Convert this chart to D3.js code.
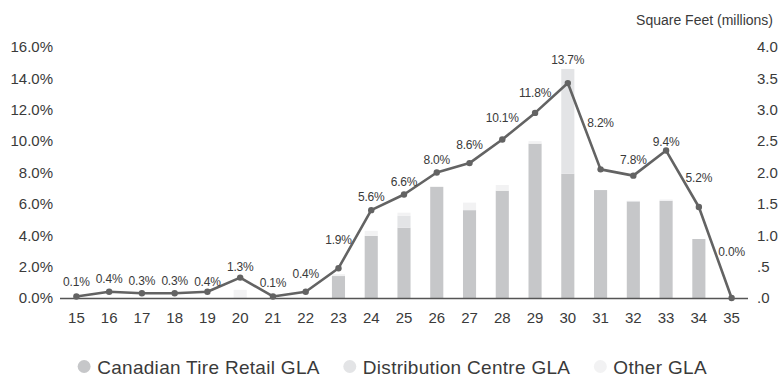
<!DOCTYPE html>
<html>
<head>
<meta charset="utf-8">
<script src="https://cdn.jsdelivr.net/npm/d3@7/dist/d3.min.js"></script>
<style>
  html, body { margin: 0; padding: 0; background: #fff; }
  svg { display: block; font-family: "Liberation Sans", Arial, Helvetica, sans-serif; }
</style>
</head>
<body>
<svg id="chart" width="780" height="377"></svg>
<script>
// ---------- DATA ----------
const years = ["15","16","17","18","19","20","21","22","23","24","25","26","27","28","29","30","31","32","33","34","35"];
// Square feet (millions) by component
const retailGLA = [0,0,0,0,0,0,0,0,0.35,0.99,1.12,1.77,1.40,1.71,2.46,1.98,1.72,1.54,1.55,0.94,0];
const distributionGLA = [0,0,0,0,0,0,0,0,0,0,0.19,0,0,0,0,1.67,0,0,0,0,0];
const otherGLA = [0,0,0,0,0,0.13,0,0,0.03,0.08,0.05,0.01,0.12,0.09,0.04,0,0,0.01,0.02,0,0];
// Percentage line (point values) and its labels
const pctValues = [0.1,0.4,0.3,0.3,0.4,1.3,0.1,0.4,1.9,5.6,6.6,8.0,8.6,10.1,11.8,13.7,8.2,7.8,9.4,5.8,0.0];
const pctLabels = ["0.1%","0.4%","0.3%","0.3%","0.4%","1.3%","0.1%","0.4%","1.9%","5.6%","6.6%","8.0%","8.6%","10.1%","11.8%","13.7%","8.2%","7.8%","9.4%","5.2%","0.0%"];
const leftTicks = [0,2,4,6,8,10,12,14,16];
const leftTickLabels = ["0.0%","2.0%","4.0%","6.0%","8.0%","10.0%","12.0%","14.0%","16.0%"];
const rightTicks = [0,0.5,1,1.5,2,2.5,3,3.5,4];
const rightTickLabels = [".0",".5","1.0","1.5","2.0","2.5","3.0","3.5","4.0"];
const seriesNames = ["Canadian Tire Retail GLA","Distribution Centre GLA","Other GLA"];
const rightAxisTitle = "Square Feet (millions)";

// ---------- LAYOUT / STYLE ----------
const colors = ["#c6c7c9","#e3e4e6","#f2f2f3"];
const lineColor = "#636363";
const textColor = "#3a3a3a";
const x0 = 60, x1 = 748, yTop = 47, yBase = 298;
// vertical lift of each percentage label above its point (px)
const labelLift = [10,9,8,8,6,7,9,14,24,9,8,9,14,18,16,19,42,12,5,25,42];

const svg = d3.select("#chart");

const x = d3.scaleBand().domain(years).range([x0, x1]).paddingInner(0.6).paddingOuter(0.3);
const yL = d3.scaleLinear().domain([0, 16]).range([yBase, yTop]);
const yR = d3.scaleLinear().domain([0, 4]).range([yBase, yTop]);

// stacked bars
const rows = years.map((yr, i) => ({year: yr, retail: retailGLA[i], dc: distributionGLA[i], other: otherGLA[i]}));
const stack = d3.stack().keys(["retail","dc","other"])(rows);
svg.append("g").selectAll("g").data(stack).join("g")
  .attr("fill", (d, i) => colors[i])
  .selectAll("rect").data(d => d).join("rect")
  .attr("x", d => x(d.data.year))
  .attr("width", x.bandwidth())
  .attr("y", d => yR(d[1]))
  .attr("height", d => Math.max(0, yR(d[0]) - yR(d[1])));

// left axis
const axL = svg.append("g").attr("transform", `translate(${x0 - 7},0)`)
  .call(d3.axisLeft(yL).tickValues(leftTicks).tickSize(0).tickPadding(0)
    .tickFormat((d, i) => leftTickLabels[i]));
axL.select(".domain").remove();
axL.selectAll("text").attr("font-size", 15).attr("fill", textColor)
  .attr("font-family", "Liberation Sans, Arial, sans-serif");

// right axis
const axR = svg.append("g").attr("transform", `translate(757,0)`)
  .call(d3.axisRight(yR).tickValues(rightTicks).tickSize(0).tickPadding(0)
    .tickFormat((d, i) => rightTickLabels[i]));
axR.select(".domain").remove();
axR.selectAll("text").attr("font-size", 15).attr("fill", textColor)
  .attr("font-family", "Liberation Sans, Arial, sans-serif");

svg.append("text").attr("x", 773).attr("y", 25).attr("text-anchor", "end")
  .attr("font-size", 14).attr("fill", textColor).text(rightAxisTitle);

// bottom axis
const axB = svg.append("g").attr("transform", `translate(0,${yBase})`)
  .call(d3.axisBottom(x).tickSize(0).tickPadding(14));
axB.select(".domain").remove();
axB.selectAll("text").attr("font-size", 15).attr("fill", textColor)
  .attr("font-family", "Liberation Sans, Arial, sans-serif");
svg.append("line").attr("x1", x0).attr("x2", x1).attr("y1", yBase + 0.5).attr("y2", yBase + 0.5)
  .attr("stroke", "#555").attr("stroke-width", 1.6);

// percentage line
const cx = (d, i) => x(years[i]) + x.bandwidth() / 2;
svg.append("path").datum(pctValues)
  .attr("fill", "none").attr("stroke", lineColor).attr("stroke-width", 2.6)
  .attr("stroke-linejoin", "round")
  .attr("d", d3.line().x(cx).y(d => yL(d)));
svg.append("g").selectAll("circle").data(pctValues).join("circle")
  .attr("cx", cx).attr("cy", d => yL(d)).attr("r", 3.2).attr("fill", lineColor);

svg.append("g").selectAll("text").data(pctValues).join("text")
  .attr("x", cx).attr("y", (d, i) => yL(d) - labelLift[i])
  .attr("text-anchor", "middle").attr("font-size", 12).attr("fill", textColor)
  .attr("letter-spacing", -0.2)
  .text((d, i) => pctLabels[i]);

// legend
const leg = svg.append("g");
let lx = 0;
seriesNames.forEach((name, i) => {
  const g = leg.append("g").attr("transform", `translate(${lx},0)`);
  g.append("circle").attr("cx", 7).attr("cy", 366.5).attr("r", 6.5).attr("fill", colors[i]);
  const t = g.append("text").attr("x", 20).attr("y", 374).attr("font-size", 19)
    .attr("letter-spacing", 0.3).attr("fill", textColor).text(name);
  lx += 20 + t.node().getComputedTextLength() + 23;
});
const legW = lx - 23;
leg.attr("transform", `translate(${(780 - legW) / 2 + 2},0)`);
</script>
</body>
</html>
